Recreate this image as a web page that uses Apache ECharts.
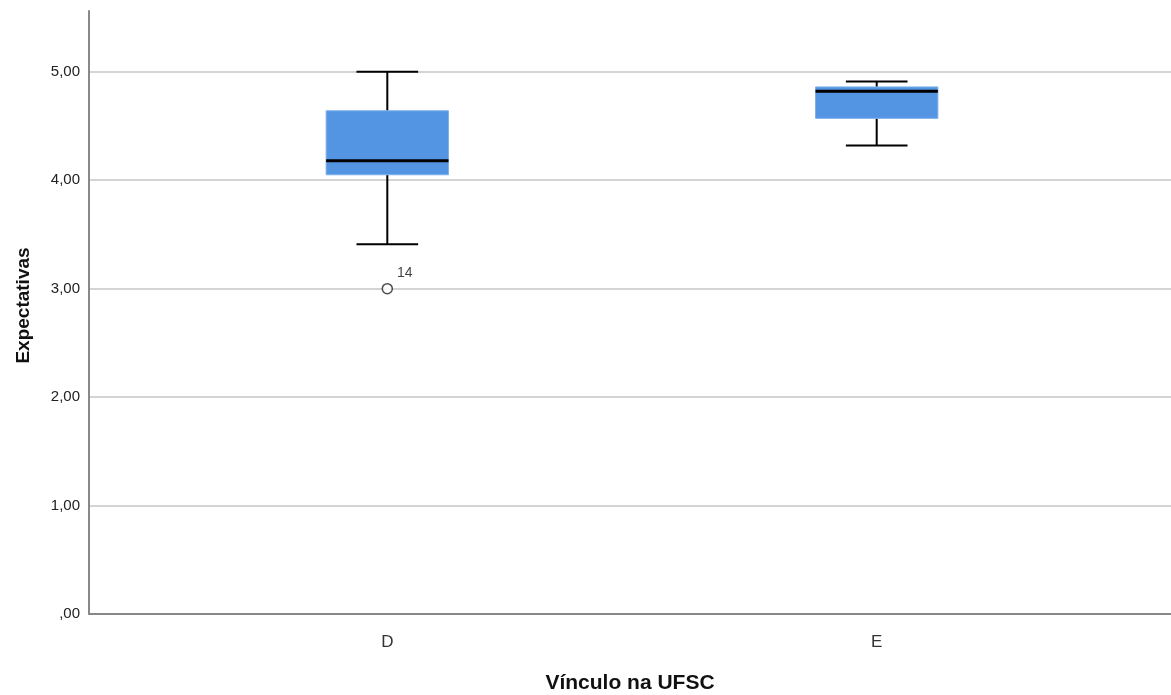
<!DOCTYPE html>
<html>
<head>
<meta charset="utf-8">
<script src="https://cdn.jsdelivr.net/npm/echarts@6/dist/echarts.min.js"></script>
<style>
  html, body { margin: 0; padding: 0; background: #fff; }
  #chart { width: 1171px; height: 695px; }
</style>
</head>
<body>
<div id="chart"></div>
<script>
// Expectativas por vínculo na UFSC
const categories = ['D', 'E'];
// [min whisker, Q1, median, Q3, max whisker]
const boxValues = [
  [3.41, 4.05, 4.18, 4.64, 5.00],
  [4.32, 4.57, 4.82, 4.86, 4.91]
];
const outliers = [
  { category: 0, value: 3.00, label: '14' }
];
const yTicks = [0, 1, 2, 3, 4, 5];
const yMax = 5.56;

const fontFamily = '"Liberation Sans", Arial, sans-serif';

// grid lines at the ticks only, none at the top edge of the axis
const gridColors = yTicks.map(() => '#c6c6c6').concat(['rgba(0,0,0,0)']);

const chart = echarts.init(document.getElementById('chart'));

function renderBox(params, api) {
  const x = api.value(0);
  const lo = api.coord([x, api.value(1)]);
  const q1 = api.coord([x, api.value(2)]);
  const med = api.coord([x, api.value(3)]);
  const q3 = api.coord([x, api.value(4)]);
  const hi = api.coord([x, api.value(5)]);
  const band = api.size([1, 0])[0];
  const bw = band * 0.25;
  const cw = band * 0.126;
  const cx = q1[0];
  const line = { stroke: '#000', lineWidth: 2 };
  return {
    type: 'group',
    children: [
      { type: 'line', shape: { x1: cx, y1: hi[1], x2: cx, y2: q3[1] }, style: line },
      { type: 'line', shape: { x1: cx, y1: q1[1], x2: cx, y2: lo[1] }, style: line },
      { type: 'line', shape: { x1: cx - cw / 2, y1: hi[1], x2: cx + cw / 2, y2: hi[1] }, style: line },
      { type: 'line', shape: { x1: cx - cw / 2, y1: lo[1], x2: cx + cw / 2, y2: lo[1] }, style: line },
      {
        type: 'rect',
        shape: { x: cx - bw / 2, y: q3[1], width: bw, height: q1[1] - q3[1] },
        style: { fill: '#5495e3', stroke: '#7eb0ec', lineWidth: 1 }
      },
      {
        type: 'line',
        shape: { x1: cx - bw / 2, y1: med[1], x2: cx + bw / 2, y2: med[1] },
        style: { stroke: '#000', lineWidth: 3 }
      }
    ]
  };
}

chart.setOption({
  backgroundColor: '#fff',
  animation: false,
  grid: [
    { left: 89, right: 0, top: 11, bottom: 81, outerBoundsMode: 'none', containLabel: false },
    { left: 142.6, right: 49.6, top: 11, bottom: 81, outerBoundsMode: 'none', containLabel: false }
  ],
  xAxis: [
    {
      type: 'value', gridIndex: 0, min: 0, max: 1,
      axisLine: { show: true, lineStyle: { color: '#888', width: 2 } },
      axisTick: { show: false }, axisLabel: { show: false }, splitLine: { show: false },
      name: 'Vínculo na UFSC', nameLocation: 'middle', nameGap: 59,
      nameTextStyle: { fontFamily, fontSize: 21, fontWeight: 'bold', color: '#111' }
    },
    {
      type: 'category', gridIndex: 1, data: categories,
      axisLine: { show: false }, axisTick: { show: false }, splitLine: { show: false },
      axisLabel: { margin: 20, fontFamily, fontSize: 17, color: '#333' }
    }
  ],
  yAxis: [
    {
      type: 'value', gridIndex: 0, min: 0, max: yMax, interval: 1,
      axisLine: { show: true, lineStyle: { color: '#888', width: 2 } },
      axisTick: { show: false },
      splitLine: { show: true, lineStyle: { color: gridColors, width: 1.5 } },
      axisLabel: {
        margin: 9, fontFamily, fontSize: 15, color: '#222',
        formatter: v => yTicks.includes(v) ? (v === 0 ? ',00' : v.toFixed(2).replace('.', ',')) : ''
      },
      name: 'Expectativas', nameLocation: 'middle', nameGap: 56,
      nameTextStyle: { fontFamily, fontSize: 19, fontWeight: 'bold', color: '#111', padding: [0, 0, 0, 14] }
    },
    {
      type: 'value', gridIndex: 1, min: 0, max: yMax,
      axisLine: { show: false }, axisTick: { show: false },
      axisLabel: { show: false }, splitLine: { show: false }
    }
  ],
  series: [
    {
      type: 'custom', xAxisIndex: 1, yAxisIndex: 1,
      renderItem: renderBox,
      encode: { x: 0, y: [1, 2, 3, 4, 5] },
      data: boxValues.map((b, i) => [i, ...b]),
      z: 3
    },
    {
      type: 'scatter', xAxisIndex: 1, yAxisIndex: 1,
      symbol: 'circle', symbolSize: 10,
      itemStyle: { color: '#fff', borderColor: '#222', borderWidth: 1.5 },
      label: {
        show: true, position: 'right', distance: 4, offset: [0, -15],
        formatter: p => outliers[p.dataIndex].label,
        fontFamily, fontSize: 14, color: '#111'
      },
      data: outliers.map(o => [o.category, o.value]),
      z: 4
    }
  ]
});
</script>
</body>
</html>
